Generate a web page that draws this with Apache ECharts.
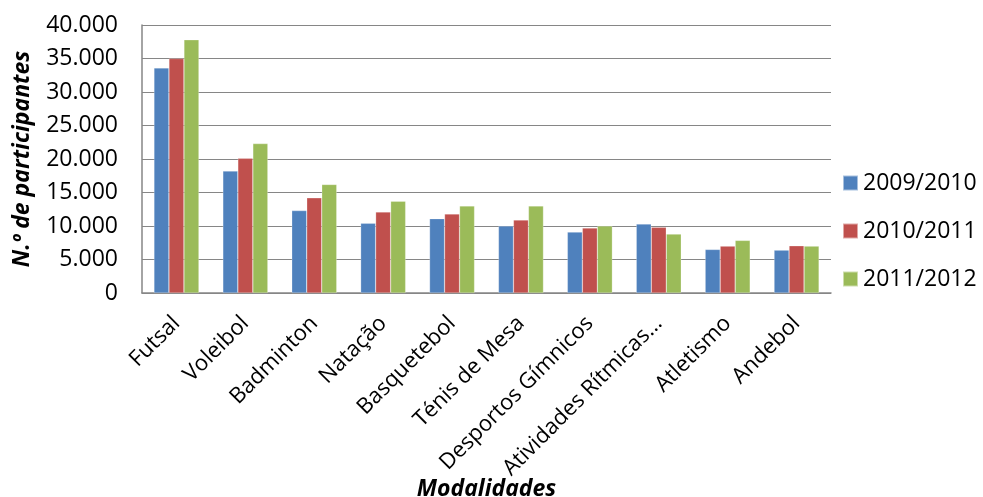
<!DOCTYPE html>
<html><head><meta charset="utf-8">
<script src="https://cdn.jsdelivr.net/npm/echarts@6/dist/echarts.min.js"></script>
<style>html,body{margin:0;padding:0;background:#fff}#c{width:983px;height:497px}</style>
</head><body><div id="c"></div>
<script>
const categories = ["Futsal","Voleibol","Badminton","Natação","Basquetebol","Ténis de Mesa","Desportos Gímnicos","Atividades Rítmicas...","Atletismo","Andebol"];
const s2009 = [33600,18200,12300,10400,11100,10000,9100,10300,6500,6400];
const s2010 = [35000,20100,14200,12100,11800,10900,9700,9800,7000,7050];
const s2011 = [37800,22300,16200,13700,13000,13000,10000,8800,7850,7000];
const seriesNames = ["2009/2010","2010/2011","2011/2012"];
const yTicks = [0,5000,10000,15000,20000,25000,30000,35000,40000];

const font = "'Open Sans', sans-serif";
const colors = ["#4F81BD","#C0504D","#9BBB59"];
const fmt = v => String(v).replace(/\B(?=(\d{3})+(?!\d))/g, ".");
const chart = echarts.init(document.getElementById('c'), null, {renderer:'canvas'});
const data = [s2009, s2010, s2011];
chart.setOption({
  animation:false,
  color: colors,
  grid:{left:142, right:152, top:25, bottom:204, containLabel:false, outerBoundsMode:'none'},
  legend:{
    orient:'vertical', left:842, top:168, padding:0, itemWidth:15, itemHeight:15, itemGap:18,
    icon:'rect',
    textStyle:{fontFamily:font, fontSize:23, lineHeight:30, color:'#000'},
    data: seriesNames
  },
  xAxis:{
    type:'category', data:categories,
    name:'Modalidades', nameLocation:'middle', nameGap:185, nameMoveOverlap:false,
    nameTextStyle:{fontFamily:font, fontSize:23, fontWeight:'bold', fontStyle:'italic', color:'#000'},
    axisLine:{lineStyle:{color:'#868686', width:1.5}},
    axisTick:{show:false},
    axisLabel:{rotate:45, interval:0, margin:27, fontFamily:font, fontSize:22, color:'#000'}
  },
  yAxis:{
    type:'value', min:yTicks[0], max:yTicks[yTicks.length-1], interval:5000,
    name:'N.º de participantes', nameLocation:'middle', nameGap:108, nameMoveOverlap:false,
    nameTextStyle:{fontFamily:font, fontSize:23, fontWeight:'bold', fontStyle:'italic', color:'#000'},
    axisLine:{show:true, lineStyle:{color:'#868686', width:1.5}},
    axisTick:{show:false},
    splitLine:{lineStyle:{color:'#868686', width:1.2}},
    axisLabel:{margin:24, fontFamily:font, fontSize:23, color:'#000', formatter: v => fmt(v)}
  },
  series: seriesNames.map((n,i)=>({
    name:n, type:'bar', data:data[i], barWidth:15, barGap:'0%',
    itemStyle:{color:colors[i], borderColor:'rgba(255,255,255,0.5)', borderWidth:0.5}
  }))
});
</script></body></html>
